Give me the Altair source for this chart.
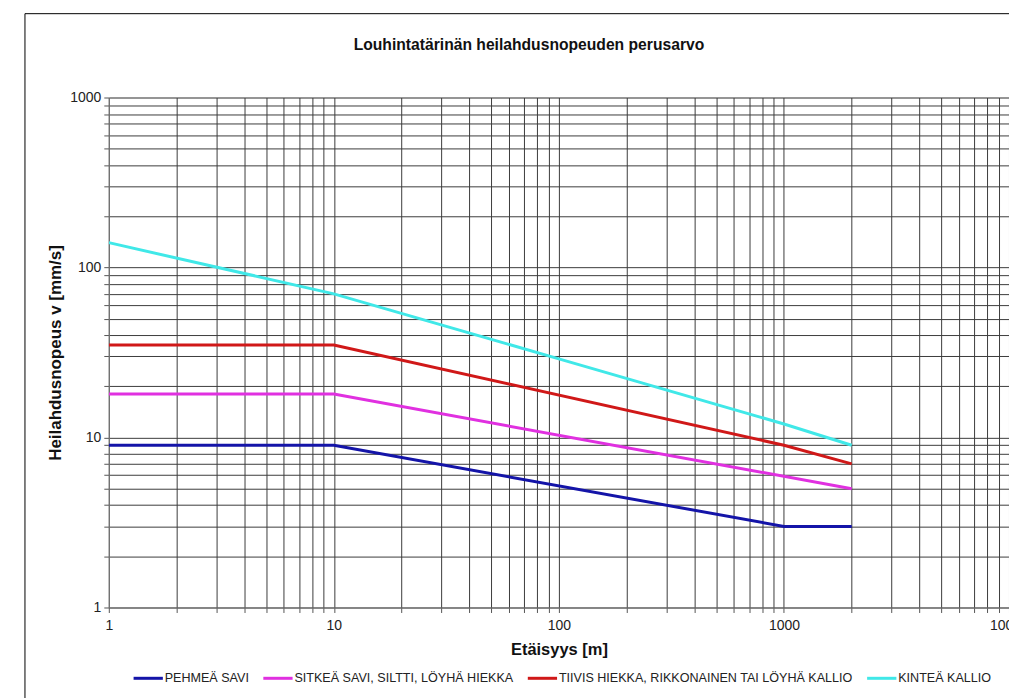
import altair as alt
import pandas as pd

series_names = [
    "PEHMEÄ SAVI",
    "SITKEÄ SAVI, SILTTI, LÖYHÄ HIEKKA",
    "TIIVIS HIEKKA, RIKKONAINEN TAI LÖYHÄ KALLIO",
    "KINTEÄ KALLIO",
]
series_colors = ["#1414A8", "#E030E0", "#D01818", "#40E8E8"]
chart_title = "Louhintatärinän heilahdusnopeuden perusarvo"

x_pehmea = [1, 10, 1000, 2000]
y_pehmea = [9, 9, 3, 3]
x_sitkea = [1, 10, 2000]
y_sitkea = [18, 18, 5]
x_tiivis = [1, 10, 1000, 2000]
y_tiivis = [35, 35, 9, 7]
x_kintea = [1, 10, 100, 1000, 2000]
y_kintea = [140, 70, 29, 12, 9]

x_ticks = [m * 10 ** e for e in range(0, 4) for m in range(1, 10)] + [10000]
y_ticks = [m * 10 ** e for e in range(0, 3) for m in range(1, 10)] + [1000]

rows = []
for name, xs, ys in zip(series_names,
                        [x_pehmea, x_sitkea, x_tiivis, x_kintea],
                        [y_pehmea, y_sitkea, y_tiivis, y_kintea]):
    for i, (xv, yv) in enumerate(zip(xs, ys)):
        rows.append({"sarja": name, "x": xv, "y": yv, "i": i})
df = pd.DataFrame(rows)

label_expr = "indexof([1,10,100,1000,10000], datum.value) >= 0 ? format(datum.value, 'd') : ''"
label_expr_y = "indexof([1,10,100,1000], datum.value) >= 0 ? format(datum.value, 'd') : ''"

FONT = "Liberation Sans"

lines = alt.Chart(df).mark_line(strokeWidth=3, clip=True).encode(
    x=alt.X("x:Q",
            scale=alt.Scale(type="log", domain=[1, 10000], nice=False),
            axis=alt.Axis(values=x_ticks, labelExpr=label_expr, title="Etäisyys [m]",
                          grid=True, gridColor="#3c3c3c", gridWidth=1, gridOpacity=1,
                          domainColor="#777", tickColor="#555", tickSize=5,
                          labelFont=FONT, labelFontSize=14, labelColor="#222",
                          labelPadding=6, labelFlush=False, labelOverlap=False,
                          titleFont=FONT, titleFontSize=16.5, titleFontWeight="bold",
                          titleColor="#111", titlePadding=9)),
    y=alt.Y("y:Q",
            scale=alt.Scale(type="log", domain=[1, 1000], nice=False),
            axis=alt.Axis(values=y_ticks, labelExpr=label_expr_y,
                          title="Heilahdusnopeus v [mm/s]",
                          grid=True, gridColor="#3c3c3c", gridWidth=1, gridOpacity=1,
                          domainColor="#777", tickColor="#555", tickSize=5,
                          labelFont=FONT, labelFontSize=14, labelColor="#222",
                          labelPadding=3, labelOverlap=False,
                          titleFont=FONT, titleFontSize=17, titleFontWeight="bold",
                          titleColor="#111", titlePadding=5)),
    color=alt.Color("sarja:N",
                    scale=alt.Scale(domain=series_names, range=series_colors),
                    legend=alt.Legend(title=None, orient="none", direction="horizontal",
                                      legendX=23, legendY=565, padding=0,
                                      symbolType="stroke", symbolStrokeWidth=3, symbolSize=860,
                                      labelFont=FONT, labelFontSize=12.6,
                                      labelColor="#222", columnPadding=7, labelOffset=0,
                                      labelLimit=400)),
    order="i:Q",
)

frame = alt.Chart(pd.DataFrame({"f": [0]})).mark_rect(
    fillOpacity=0, stroke="#000", strokeWidth=1, clip=False
).encode(
    x=alt.value(-84), x2=alt.value(1200), y=alt.value(-84), y2=alt.value(1000)
)

title_text = alt.Chart(pd.DataFrame({"t": [chart_title]})).mark_text(
    font=FONT, fontSize=15.7, fontWeight="bold", color="#111",
    align="center", baseline="middle", clip=False
).encode(
    text="t:N", x=alt.value(421), y=alt.value(-53)
)

chart = alt.layer(frame, lines, title_text).properties(
    width=902,
    height=511,
    padding={"left": 101, "top": 89, "right": 0, "bottom": 90},
    autosize=alt.AutoSizeParams(type="none"),
).configure_view(strokeWidth=0).configure(background="white")

chart.save("out.html", embed_options={"renderer": "svg", "actions": False})
